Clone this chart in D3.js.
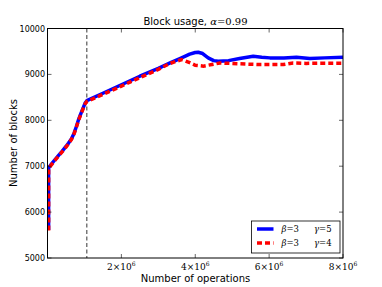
<!DOCTYPE html>
<meta charset="utf-8">
<style>
    body { margin: 0; background: #fff; }
    text { font-family: "DejaVu Sans", sans-serif; fill: #000; }
    .math { font-family: "DejaVu Serif", serif; }
</style>
<svg width="382" height="287"></svg>
<script src="https://cdn.jsdelivr.net/npm/d3@7"></script>
<script>

    // operations (millions) and block counts
    var blueX = [0.03, 0.03, 0.1, 0.2, 0.3, 0.4, 0.5, 0.57, 0.65, 0.72, 0.78, 0.84, 0.9, 0.95, 1.02, 1.065, 1.5, 2.0, 2.5, 3.0, 3.32, 3.6, 3.85, 4.0, 4.08, 4.2, 4.35, 4.5, 4.62, 4.9, 5.2, 5.57, 5.8, 6.02, 6.4, 6.74, 7.1, 7.5, 8.0];
    var blueY = [5611, 6959, 7040, 7140, 7235, 7330, 7430, 7504, 7600, 7720, 7860, 8013, 8140, 8240, 8378, 8428, 8590, 8775, 8960, 9130, 9250, 9350, 9440, 9478, 9483, 9455, 9360, 9300, 9286, 9300, 9345, 9395, 9375, 9360, 9355, 9374, 9345, 9360, 9375];
    var redX = [0.03, 0.03, 0.1, 0.2, 0.3, 0.4, 0.5, 0.57, 0.65, 0.72, 0.78, 0.84, 0.9, 0.95, 1.02, 1.065, 1.5, 2.0, 2.5, 3.0, 3.32, 3.63, 3.85, 4.0, 4.22, 4.45, 4.67, 5.2, 5.75, 6.38, 6.65, 7.0, 7.5, 8.0];
    var redY = [5600, 6945, 7025, 7125, 7220, 7315, 7415, 7490, 7585, 7705, 7845, 7995, 8125, 8225, 8360, 8410, 8565, 8745, 8930, 9110, 9240, 9323, 9255, 9200, 9180, 9215, 9250, 9230, 9214, 9214, 9250, 9240, 9245, 9245];
    var xTicks = [2, 4, 6, 8];
    var yTicks = [5000, 6000, 7000, 8000, 9000, 10000];
    var markerX = 1.065;

    var svg = d3.select("svg");
    var pL = 47.5, pR = 343, pT = 28.5, pB = 258;

    var x = d3.scaleLinear().domain([0, 8]).range([pL, pR]);
    var y = d3.scaleLinear().domain([5000, 10000]).range([pB, pT]);

    var line = d3.line()
        .x(function (d) { return x(d[0]); })
        .y(function (d) { return y(d[1]); });

    svg.append("clipPath").attr("id", "clip")
        .append("rect")
        .attr("x", pL).attr("y", pT)
        .attr("width", pR - pL).attr("height", pB - pT);

    // dashed marker
    svg.append("line")
        .attr("x1", x(markerX)).attr("x2", x(markerX))
        .attr("y1", pT).attr("y2", pB)
        .attr("stroke", "#000")
        .attr("stroke-width", 0.8)
        .attr("stroke-dasharray", "4,2.5");

    var plot = svg.append("g").attr("clip-path", "url(#clip)");

    plot.append("path")
        .datum(d3.zip(blueX, blueY))
        .attr("d", line)
        .attr("fill", "none")
        .attr("stroke", "#0000ff")
        .attr("stroke-width", 3.5)
        .attr("stroke-linejoin", "round");

    plot.append("path")
        .datum(d3.zip(redX, redY))
        .attr("d", line)
        .attr("fill", "none")
        .attr("stroke", "#ff0000")
        .attr("stroke-width", 3.5)
        .attr("stroke-dasharray", "5,3");

    // frame
    svg.append("rect")
        .attr("x", pL).attr("y", pT)
        .attr("width", pR - pL).attr("height", pB - pT)
        .attr("fill", "none")
        .attr("stroke", "#000")
        .attr("stroke-width", 1);

    // inward ticks on all four sides
    var tickLen = 4;
    xTicks.forEach(function (t) {
        svg.append("line").attr("x1", x(t)).attr("x2", x(t))
            .attr("y1", pB).attr("y2", pB - tickLen)
            .attr("stroke", "#000").attr("stroke-width", 0.6);
        svg.append("line").attr("x1", x(t)).attr("x2", x(t))
            .attr("y1", pT).attr("y2", pT + tickLen)
            .attr("stroke", "#000").attr("stroke-width", 0.6);
        var lab = svg.append("text")
            .attr("class", "math")
            .attr("x", x(t))
            .attr("y", 270)
            .attr("text-anchor", "middle")
            .attr("font-size", 9);
        lab.append("tspan").text(t + "\u00d710");
        lab.append("tspan").attr("font-size", 6).attr("dy", -4).text("6");
    });

    yTicks.forEach(function (t) {
        svg.append("line").attr("x1", pL).attr("x2", pL + tickLen)
            .attr("y1", y(t)).attr("y2", y(t))
            .attr("stroke", "#000").attr("stroke-width", 0.6);
        svg.append("line").attr("x1", pR).attr("x2", pR - tickLen)
            .attr("y1", y(t)).attr("y2", y(t))
            .attr("stroke", "#000").attr("stroke-width", 0.6);
        svg.append("text")
            .attr("x", pL - 2.5)
            .attr("y", y(t) + 3)
            .attr("text-anchor", "end")
            .attr("font-size", 8)
            .text(t);
    });

    // title
    var title = svg.append("text")
        .attr("x", 195.5).attr("y", 25)
        .attr("text-anchor", "middle")
        .attr("font-size", 10);
    title.append("tspan").text("Block usage, ");
    title.append("tspan").attr("class", "math").attr("font-style", "italic").text("\u03b1");
    title.append("tspan").attr("class", "math").text("=0.99");

    svg.append("text")
        .attr("x", 195.5).attr("y", 282)
        .attr("text-anchor", "middle")
        .attr("font-size", 10)
        .text("Number of operations");

    svg.append("text")
        .attr("transform", "translate(16.5,143) rotate(-90)")
        .attr("text-anchor", "middle")
        .attr("font-size", 10)
        .text("Number of blocks");

    // legend
    var lg = svg.append("g");
    lg.append("rect")
        .attr("x", 251.5).attr("y", 221)
        .attr("width", 88.5).attr("height", 32)
        .attr("fill", "#fff")
        .attr("stroke", "#000")
        .attr("stroke-width", 0.8);

    var entries = [
        { color: "#0000ff", dash: null, beta: "3", gamma: "5", y: 229 },
        { color: "#ff0000", dash: "5,3", beta: "3", gamma: "4", y: 243 }
    ];
    entries.forEach(function (e) {
        lg.append("line")
            .attr("x1", 257).attr("x2", 273.5)
            .attr("y1", e.y).attr("y2", e.y)
            .attr("stroke", e.color)
            .attr("stroke-width", 3.5)
            .attr("stroke-dasharray", e.dash);
        var t1 = lg.append("text").attr("class", "math")
            .attr("x", 281.5).attr("y", e.y + 3).attr("font-size", 8.5);
        t1.append("tspan").attr("font-style", "italic").text("\u03b2");
        t1.append("tspan").text("=" + e.beta);
        var t2 = lg.append("text").attr("class", "math")
            .attr("x", 314).attr("y", e.y + 3).attr("font-size", 8.5);
        t2.append("tspan").attr("font-style", "italic").text("\u03b3");
        t2.append("tspan").text("=" + e.gamma);
    });

</script>
